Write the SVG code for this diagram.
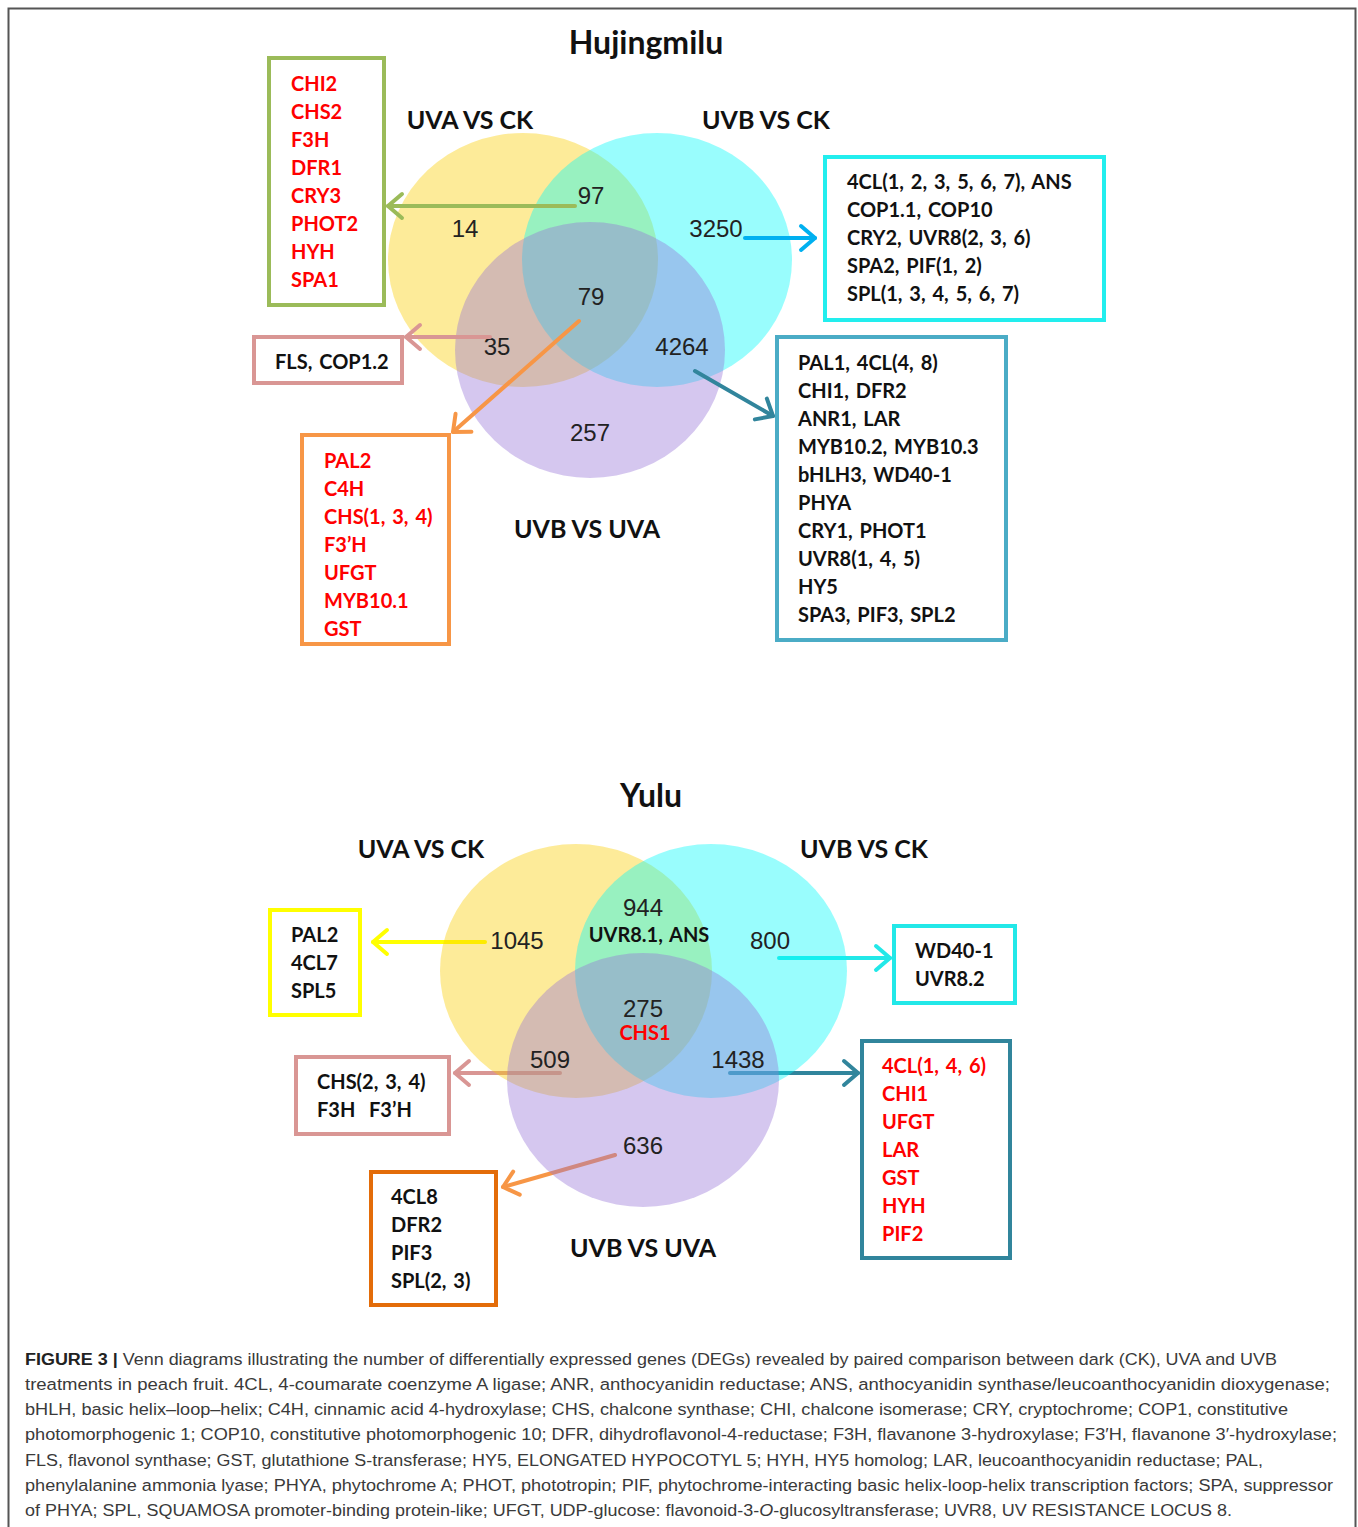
<svg xmlns="http://www.w3.org/2000/svg" width="1358" height="1527" viewBox="0 0 1358 1527">
<style>
.frame{fill:#fff;stroke:#555;stroke-width:2}
.y{fill:rgb(250,205,0);fill-opacity:.4}
.c{fill:rgb(0,250,250);fill-opacity:.4}
.p{fill:rgb(150,115,215);fill-opacity:.4}
.box{fill:#fff;stroke-width:4}
.b{font-family:Lato,"Liberation Sans",sans-serif;font-weight:bold}
.title{font-size:32px;fill:#111}
.set{font-size:25px;fill:#111}
.g{font-size:20px;fill:#111;word-spacing:2px}
.r{fill:#f00}
.n{font-family:"Liberation Sans",Arial,sans-serif;font-size:24px;fill:#222}
.ln{fill:none;stroke-width:4;stroke-linecap:round}
.cap{font-family:"Liberation Sans",Arial,sans-serif;font-size:17.4px;fill:#3a3a3a}
</style>
<defs>
<marker id="mGreen" viewBox="0 0 20 30" refX="17" refY="15" markerWidth="20" markerHeight="30" markerUnits="userSpaceOnUse" orient="auto"><path d="M3,3 L17,15 L3,27" fill="none" stroke="#9BBB59" stroke-width="4" stroke-linecap="round" stroke-linejoin="round"/></marker>
<marker id="mBlue" viewBox="0 0 20 30" refX="17" refY="15" markerWidth="20" markerHeight="30" markerUnits="userSpaceOnUse" orient="auto"><path d="M3,3 L17,15 L3,27" fill="none" stroke="#00B0F0" stroke-width="4" stroke-linecap="round" stroke-linejoin="round"/></marker>
<marker id="mPink" viewBox="0 0 20 30" refX="17" refY="15" markerWidth="20" markerHeight="30" markerUnits="userSpaceOnUse" orient="auto"><path d="M3,3 L17,15 L3,27" fill="none" stroke="#D99694" stroke-width="4" stroke-linecap="round" stroke-linejoin="round"/></marker>
<marker id="mOrange" viewBox="0 0 20 30" refX="17" refY="15" markerWidth="20" markerHeight="30" markerUnits="userSpaceOnUse" orient="auto"><path d="M3,3 L17,15 L3,27" fill="none" stroke="#F79646" stroke-width="4" stroke-linecap="round" stroke-linejoin="round"/></marker>
<marker id="mTeal" viewBox="0 0 20 30" refX="17" refY="15" markerWidth="20" markerHeight="30" markerUnits="userSpaceOnUse" orient="auto"><path d="M3,3 L17,15 L3,27" fill="none" stroke="#31859C" stroke-width="4" stroke-linecap="round" stroke-linejoin="round"/></marker>
<marker id="mYellow" viewBox="0 0 20 30" refX="17" refY="15" markerWidth="20" markerHeight="30" markerUnits="userSpaceOnUse" orient="auto"><path d="M3,3 L17,15 L3,27" fill="none" stroke="#FFFF00" stroke-width="4" stroke-linecap="round" stroke-linejoin="round"/></marker>
<marker id="mCyan" viewBox="0 0 20 30" refX="17" refY="15" markerWidth="20" markerHeight="30" markerUnits="userSpaceOnUse" orient="auto"><path d="M3,3 L17,15 L3,27" fill="none" stroke="#22E8E8" stroke-width="4" stroke-linecap="round" stroke-linejoin="round"/></marker>
</defs>
<rect class="frame" x="8.5" y="8.5" width="1347" height="1540"/>

<!-- Top Venn: Hujingmilu -->
<g id="venn-top">
<ellipse class="y" cx="523" cy="260" rx="135" ry="127"/>
<ellipse class="c" cx="657" cy="260" rx="135" ry="127"/>
<ellipse class="p" cx="590" cy="350" rx="135" ry="128"/>
</g>
<g id="labels-top">
<text class="b title" x="646" y="54" text-anchor="middle">Hujingmilu</text>
<text class="b set" x="470" y="129" text-anchor="middle">UVA VS CK</text>
<text class="b set" x="766" y="129" text-anchor="middle">UVB VS CK</text>
<text class="b set" x="587" y="538" text-anchor="middle">UVB VS UVA</text>
<text class="n" x="465" y="237" text-anchor="middle">14</text>
<text class="n" x="591" y="204" text-anchor="middle">97</text>
<text class="n" x="716" y="237" text-anchor="middle">3250</text>
<text class="n" x="591" y="305" text-anchor="middle">79</text>
<text class="n" x="497" y="355" text-anchor="middle">35</text>
<text class="n" x="682" y="355" text-anchor="middle">4264</text>
<text class="n" x="590" y="441" text-anchor="middle">257</text>
</g>

<g id="connectors">
<line class="ln" x1="575" y1="206" x2="388" y2="206" stroke="#9BBB59" marker-end="url(#mGreen)"/>
<line class="ln" x1="745" y1="238" x2="815" y2="238" stroke="#00B0F0" marker-end="url(#mBlue)"/>
<line class="ln" x1="490" y1="337" x2="406" y2="337" stroke="#D99694" marker-end="url(#mPink)"/>
<line class="ln" x1="579" y1="321" x2="453" y2="432" stroke="#F79646" marker-end="url(#mOrange)"/>
<line class="ln" x1="695" y1="371" x2="773" y2="416" stroke="#31859C" marker-end="url(#mTeal)"/>
<line class="ln" x1="485" y1="942" x2="373" y2="942" stroke="#FFFF00" marker-end="url(#mYellow)"/>
<line class="ln" x1="779" y1="958" x2="890" y2="958" stroke="#22E8E8" marker-end="url(#mCyan)"/>
<line class="ln" x1="560" y1="1073" x2="455" y2="1073" stroke="#D99694" marker-end="url(#mPink)"/>
<line class="ln" x1="730" y1="1073" x2="858" y2="1073" stroke="#31859C" marker-end="url(#mTeal)"/>
<line class="ln" x1="615" y1="1155" x2="503" y2="1187" stroke="#F79646" marker-end="url(#mOrange)"/>
</g>

<g id="box-uva-only-top">
<rect class="box" x="269" y="58" width="115" height="247" stroke="#9BBB59"/>
<text class="b g r" x="291" y="91">CHI2</text>
<text class="b g r" x="291" y="119">CHS2</text>
<text class="b g r" x="291" y="147">F3H</text>
<text class="b g r" x="291" y="175">DFR1</text>
<text class="b g r" x="291" y="203">CRY3</text>
<text class="b g r" x="291" y="231">PHOT2</text>
<text class="b g r" x="291" y="259">HYH</text>
<text class="b g r" x="291" y="287">SPA1</text>
</g>
<g id="box-uvb-only-top">
<rect class="box" x="825" y="157" width="279" height="163" stroke="#22EEEE"/>
<text class="b g" x="847" y="189">4CL(1, 2, 3, 5, 6, 7), ANS</text>
<text class="b g" x="847" y="217">COP1.1, COP10</text>
<text class="b g" x="847" y="245">CRY2, UVR8(2, 3, 6)</text>
<text class="b g" x="847" y="273">SPA2, PIF(1, 2)</text>
<text class="b g" x="847" y="301">SPL(1, 3, 4, 5, 6, 7)</text>
</g>
<g id="box-35-top">
<rect class="box" x="254" y="337" width="148" height="46" stroke="#D99694"/>
<text class="b g" x="275" y="369">FLS, COP1.2</text>
</g>
<g id="box-79-top">
<rect class="box" x="302" y="435" width="147" height="209" stroke="#F79646"/>
<text class="b g r" x="324" y="468">PAL2</text>
<text class="b g r" x="324" y="496">C4H</text>
<text class="b g r" x="324" y="524">CHS(1, 3, 4)</text>
<text class="b g r" x="324" y="552">F3’H</text>
<text class="b g r" x="324" y="580">UFGT</text>
<text class="b g r" x="324" y="608">MYB10.1</text>
<text class="b g r" x="324" y="636">GST</text>
</g>
<g id="box-4264-top">
<rect class="box" x="777" y="337" width="229" height="303" stroke="#4BACC6"/>
<text class="b g" x="798" y="370">PAL1, 4CL(4, 8)</text>
<text class="b g" x="798" y="398">CHI1, DFR2</text>
<text class="b g" x="798" y="426">ANR1, LAR</text>
<text class="b g" x="798" y="454">MYB10.2, MYB10.3</text>
<text class="b g" x="798" y="482">bHLH3, WD40-1</text>
<text class="b g" x="798" y="510">PHYA</text>
<text class="b g" x="798" y="538">CRY1, PHOT1</text>
<text class="b g" x="798" y="566">UVR8(1, 4, 5)</text>
<text class="b g" x="798" y="594">HY5</text>
<text class="b g" x="798" y="622">SPA3, PIF3, SPL2</text>
</g>

<!-- Bottom Venn: Yulu -->
<g id="venn-bottom">
<ellipse class="y" cx="576" cy="971" rx="136" ry="127"/>
<ellipse class="c" cx="711" cy="971" rx="136" ry="127"/>
<ellipse class="p" cx="643" cy="1080" rx="136" ry="127"/>
</g>
<g id="labels-bottom">
<text class="b title" x="651" y="807" text-anchor="middle">Yulu</text>
<text class="b set" x="421" y="858" text-anchor="middle">UVA VS CK</text>
<text class="b set" x="864" y="858" text-anchor="middle">UVB VS CK</text>
<text class="b set" x="643" y="1257" text-anchor="middle">UVB VS UVA</text>
<text class="n" x="517" y="949" text-anchor="middle">1045</text>
<text class="n" x="643" y="916" text-anchor="middle">944</text>
<text class="b g" x="649" y="942" text-anchor="middle">UVR8.1, ANS</text>
<text class="n" x="770" y="949" text-anchor="middle">800</text>
<text class="n" x="643" y="1017" text-anchor="middle">275</text>
<text class="b g r" x="645" y="1040" text-anchor="middle">CHS1</text>
<text class="n" x="550" y="1068" text-anchor="middle">509</text>
<text class="n" x="738" y="1068" text-anchor="middle">1438</text>
<text class="n" x="643" y="1154" text-anchor="middle">636</text>
</g>
<g id="box-1045-bottom">
<rect class="box" x="270" y="910" width="90" height="105" stroke="#FFFF00"/>
<text class="b g" x="291" y="942">PAL2</text>
<text class="b g" x="291" y="970">4CL7</text>
<text class="b g" x="291" y="998">SPL5</text>
</g>
<g id="box-800-bottom">
<rect class="box" x="894" y="926" width="121" height="77" stroke="#22E8E8"/>
<text class="b g" x="915" y="958">WD40-1</text>
<text class="b g" x="915" y="986">UVR8.2</text>
</g>
<g id="box-509-bottom">
<rect class="box" x="296" y="1057" width="153" height="77" stroke="#D99694"/>
<text class="b g" x="317" y="1089">CHS(2, 3, 4)</text>
<text class="b g" x="317" y="1117" xml:space="preserve">F3H  F3’H</text>
</g>
<g id="box-1438-bottom">
<rect class="box" x="862" y="1041" width="148" height="217" stroke="#31859C"/>
<text class="b g r" x="882" y="1073">4CL(1, 4, 6)</text>
<text class="b g r" x="882" y="1101">CHI1</text>
<text class="b g r" x="882" y="1129">UFGT</text>
<text class="b g r" x="882" y="1157">LAR</text>
<text class="b g r" x="882" y="1185">GST</text>
<text class="b g r" x="882" y="1213">HYH</text>
<text class="b g r" x="882" y="1241">PIF2</text>
</g>
<g id="box-636-bottom">
<rect class="box" x="371" y="1172" width="125" height="133" stroke="#E36C09"/>
<text class="b g" x="391" y="1204">4CL8</text>
<text class="b g" x="391" y="1232">DFR2</text>
<text class="b g" x="391" y="1260">PIF3</text>
<text class="b g" x="391" y="1288">SPL(2, 3)</text>
</g>

<g id="caption">
<text class="cap" x="25" y="1365" textLength="1252" lengthAdjust="spacingAndGlyphs"><tspan font-weight="bold" fill="#222">FIGURE 3 |</tspan> Venn diagrams illustrating the number of differentially expressed genes (DEGs) revealed by paired comparison between dark (CK), UVA and UVB</text>
<text class="cap" x="25" y="1390" textLength="1305" lengthAdjust="spacingAndGlyphs">treatments in peach fruit. 4CL, 4-coumarate coenzyme A ligase; ANR, anthocyanidin reductase; ANS, anthocyanidin synthase/leucoanthocyanidin dioxygenase;</text>
<text class="cap" x="25" y="1415" textLength="1263" lengthAdjust="spacingAndGlyphs">bHLH, basic helix–loop–helix; C4H, cinnamic acid 4-hydroxylase; CHS, chalcone synthase; CHI, chalcone isomerase; CRY, cryptochrome; COP1, constitutive</text>
<text class="cap" x="25" y="1440" textLength="1312" lengthAdjust="spacingAndGlyphs">photomorphogenic 1; COP10, constitutive photomorphogenic 10; DFR, dihydroflavonol-4-reductase; F3H, flavanone 3-hydroxylase; F3′H, flavanone 3′-hydroxylase;</text>
<text class="cap" x="25" y="1466" textLength="1238" lengthAdjust="spacingAndGlyphs">FLS, flavonol synthase; GST, glutathione S-transferase; HY5, ELONGATED HYPOCOTYL 5; HYH, HY5 homolog; LAR, leucoanthocyanidin reductase; PAL,</text>
<text class="cap" x="25" y="1491" textLength="1308" lengthAdjust="spacingAndGlyphs">phenylalanine ammonia lyase; PHYA, phytochrome A; PHOT, phototropin; PIF, phytochrome-interacting basic helix-loop-helix transcription factors; SPA, suppressor</text>
<text class="cap" x="25" y="1516" textLength="1207" lengthAdjust="spacingAndGlyphs">of PHYA; SPL, SQUAMOSA promoter-binding protein-like; UFGT, UDP-glucose: flavonoid-3-<tspan font-style="italic">O</tspan>-glucosyltransferase; UVR8, UV RESISTANCE LOCUS 8.</text>
</g>
</svg>
